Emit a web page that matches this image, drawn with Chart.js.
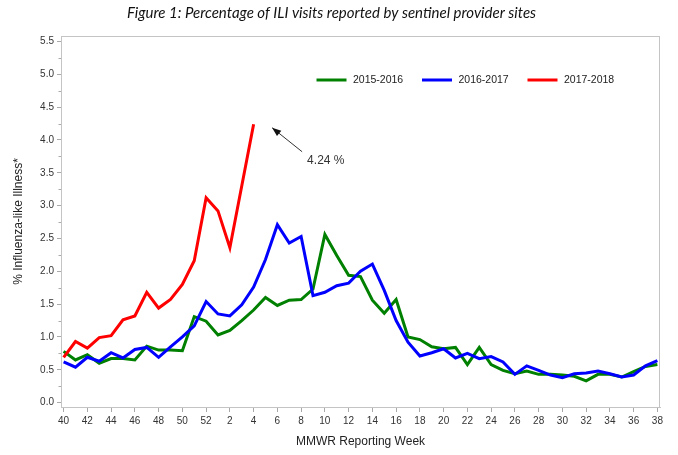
<!DOCTYPE html>
<html><head><meta charset="utf-8">
<script src="https://cdn.jsdelivr.net/npm/chart.js@4"></script>
<style>html,body{margin:0;padding:0;background:#fff;}#wrap{width:678px;height:455px;}</style>
</head><body><div id="wrap"><canvas id="c" width="678" height="455"></canvas></div>
<script>
const weeks = [40,41,42,43,44,45,46,47,48,49,50,51,52,1,2,3,4,5,6,7,8,9,10,11,12,13,14,15,16,17,18,19,20,21,22,23,24,25,26,27,28,29,30,31,32,33,34,35,36,37,38];
const s2015 = [0.78,0.65,0.73,0.60,0.67,0.67,0.65,0.86,0.80,0.80,0.79,1.31,1.24,1.03,1.10,1.25,1.41,1.60,1.48,1.56,1.57,1.73,2.56,2.24,1.94,1.92,1.56,1.36,1.57,1.00,0.96,0.85,0.82,0.84,0.58,0.84,0.58,0.49,0.44,0.48,0.43,0.43,0.42,0.40,0.33,0.43,0.43,0.39,0.47,0.55,0.58];
const s2016 = [0.62,0.54,0.69,0.63,0.76,0.68,0.81,0.84,0.69,0.85,1.00,1.17,1.54,1.35,1.32,1.49,1.76,2.18,2.71,2.43,2.53,1.63,1.68,1.78,1.82,2.00,2.11,1.71,1.25,0.92,0.71,0.76,0.82,0.68,0.75,0.67,0.70,0.62,0.43,0.56,0.49,0.42,0.38,0.44,0.45,0.48,0.44,0.39,0.42,0.56,0.64];
const s2017 = [0.69,0.93,0.83,0.99,1.02,1.26,1.32,1.68,1.44,1.57,1.80,2.16,3.12,2.92,2.36,3.30,4.24];
const seriesLabels = ['2015-2016','2016-2017','2017-2018'];
const seriesColors = ['#008000','#0000ff','#ff0000'];
const yTicks = [0,0.5,1,1.5,2,2.5,3,3.5,4,4.5,5,5.5];
const yMinorTicks = [0.25,0.75,1.25,1.75,2.25,2.75,3.25,3.75,4.25,4.75,5.25];
const xTickIdx = weeks.map((w,i)=>i).filter(i=>i%2===0);
const titleText = 'Figure 1: Percentage of ILI visits reported by sentinel provider sites';
const annotText = '4.24 %';

const toXY = arr => arr.map((v,i)=>({x:i,y:v}));
const series = [s2015,s2016,s2017];

const extras = {
  id:'extras',
  beforeDatasetsDraw(chart){
    const {ctx, chartArea:a} = chart;
    ctx.save();
    ctx.strokeStyle='#c4c4c4'; ctx.lineWidth=1;
    ctx.strokeRect(a.left+0.5, a.top+0.5, a.right-a.left-1, a.bottom-a.top);
    const ys = chart.scales.y;
    ctx.strokeStyle='#aaaaaa';
    yMinorTicks.forEach(v=>{
      const py = Math.round(ys.getPixelForValue(v))+0.5;
      ctx.beginPath(); ctx.moveTo(a.left-2.5, py); ctx.lineTo(a.left, py); ctx.stroke();
    });
    ctx.restore();
  },
  afterDraw(chart){
    const {ctx, chartArea:a} = chart;
    ctx.save();
    // title
    ctx.fillStyle='#111';
    ctx.font='italic 15px Lato';
    ctx.textAlign='center'; ctx.textBaseline='alphabetic';
    ctx.fillText(titleText, 331.5, 17.5);
    // legend
    ctx.font='10.5px "Liberation Sans"';
    ctx.textAlign='left'; ctx.textBaseline='middle';
    seriesLabels.forEach((lab,k)=>{
      const x0 = a.left + 255.5 + k*105.5;
      const y0 = a.top + 44;
      ctx.strokeStyle=seriesColors[k]; ctx.lineWidth=3;
      ctx.beginPath(); ctx.moveTo(x0,y0); ctx.lineTo(x0+30,y0); ctx.stroke();
      ctx.fillStyle='#222';
      ctx.fillText(lab, x0+36.5, y0+0.5);
    });
    // annotation arrow
    const xs = chart.scales.x, ys = chart.scales.y;
    const li = s2017.length-1;
    const px = xs.getPixelForValue(li), py = ys.getPixelForValue(s2017[li]);
    const tipX = px+18.5, tipY = py+3.5, tailX = px+48.5, tailY = py+27.5;
    ctx.strokeStyle='#333'; ctx.lineWidth=1;
    ctx.beginPath(); ctx.moveTo(tailX,tailY); ctx.lineTo(tipX,tipY); ctx.stroke();
    const ang = Math.atan2(tipY-tailY, tipX-tailX);
    const L=9, W=3.5;
    ctx.fillStyle='#111';
    ctx.beginPath();
    ctx.moveTo(tipX,tipY);
    ctx.lineTo(tipX - L*Math.cos(ang) + W*Math.sin(ang), tipY - L*Math.sin(ang) - W*Math.cos(ang));
    ctx.lineTo(tipX - L*Math.cos(ang) - W*Math.sin(ang), tipY - L*Math.sin(ang) + W*Math.cos(ang));
    ctx.closePath(); ctx.fill();
    ctx.fillStyle='#333';
    ctx.font='12px "Liberation Sans"';
    ctx.textAlign='left'; ctx.textBaseline='middle';
    ctx.fillText(annotText, px+53.5, py+36);
    ctx.restore();
  }
};

new Chart(document.getElementById('c'), {
  type:'line',
  data:{
    datasets: series.map((s,k)=>({
      label: seriesLabels[k],
      data: toXY(s),
      borderColor: seriesColors[k],
      backgroundColor: seriesColors[k],
      borderWidth: 3,
      pointRadius: 0,
      tension: 0,
      fill: false,
      order: 3-k
    }))
  },
  options:{
    responsive:false,
    animation:false,
    devicePixelRatio:1,
    layout:{padding:{left:0,right:18,top:36,bottom:0}},
    plugins:{legend:{display:false}, title:{display:false}, tooltip:{enabled:false}},
    scales:{
      x:{
        type:'linear',
        min:-0.22, max:50.22,
        afterBuildTicks(scale){ scale.ticks = xTickIdx.map(v=>({value:v})); },
        afterFit(scale){ scale.height = 48; scale.paddingLeft=0; scale.paddingRight=0; },
        ticks:{ autoSkip:false, maxRotation:0, padding:3, color:'#333', font:{family:'Liberation Sans', size:10},
          callback:(v)=>String(weeks[v]) },
        grid:{ display:true, drawOnChartArea:false, drawTicks:true, tickLength:5, color:'#aaaaaa' },
        border:{ display:true, color:'#c4c4c4' },
        title:{ display:true, text:'MMWR Reporting Week', color:'#222', font:{family:'Liberation Sans', size:12}, padding:{top:0,bottom:6} }
      },
      y:{
        type:'linear',
        min:-0.067, max:5.584,
        afterBuildTicks(scale){ scale.ticks = yTicks.map(v=>({value:v})); },
        afterFit(scale){ scale.width = 61; scale.paddingTop=0; scale.paddingBottom=0; },
        ticks:{ padding:3, color:'#333', font:{family:'Liberation Sans', size:10},
          callback:(v)=>v.toFixed(1) },
        grid:{ display:true, drawOnChartArea:false, drawTicks:true, tickLength:4, color:'#aaaaaa' },
        border:{ display:true, color:'#c4c4c4' },
        title:{ display:true, text:'% Influenza-like Illness*', color:'#222', font:{family:'Liberation Sans', size:12}, padding:{top:11,bottom:0} }
      }
    }
  },
  plugins:[extras]
});
</script>
</body></html>
